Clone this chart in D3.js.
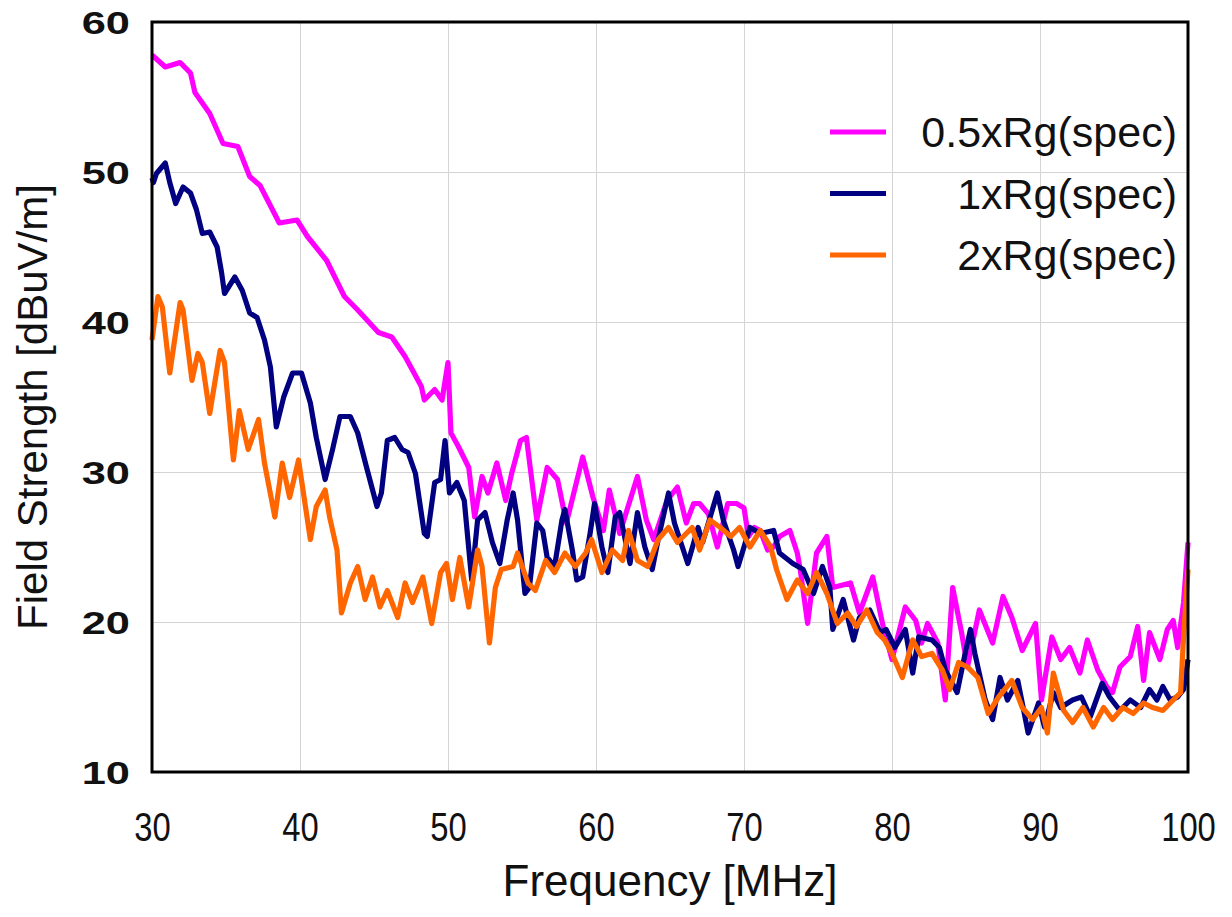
<!DOCTYPE html>
<html>
<head>
<meta charset="utf-8">
<script src="https://cdn.jsdelivr.net/npm/d3@7"></script>
<style>
  body { margin: 0; background: #fff; }
  text { font-family: "Liberation Sans", Arial, sans-serif; fill: #111; }
</style>
</head>
<body>
<div id="plot"></div>
<script>
// Frequency [MHz], field strength [dBuV/m]
const rgHalf = [
  [30.0, 57.8], [30.9, 57.0], [31.9, 57.3], [32.6, 56.6], [32.9, 55.3], [33.9, 53.9],
  [34.8, 51.9], [35.8, 51.7], [36.6, 49.7], [37.3, 49.1], [38.6, 46.6], [39.8, 46.8],
  [40.5, 45.7], [41.8, 44.1], [43.0, 41.7], [43.9, 40.8], [45.3, 39.3], [46.2, 39.0],
  [47.1, 37.7], [48.2, 35.7], [48.4, 34.8], [49.1, 35.5], [49.6, 34.8], [50.0, 37.3],
  [50.2, 32.6], [50.7, 31.7], [51.4, 30.3], [51.8, 27.0], [52.3, 29.7], [52.7, 28.6],
  [53.3, 30.6], [53.9, 28.1], [54.3, 29.9], [54.9, 32.1], [55.3, 32.3], [56.0, 26.8],
  [56.7, 30.3], [57.4, 29.5], [58.0, 26.6], [59.1, 31.0], [59.8, 28.3], [60.5, 26.1],
  [60.9, 28.8], [61.6, 25.9], [62.8, 29.7], [63.4, 26.8], [63.9, 25.5], [64.8, 28.1],
  [65.5, 29.0], [66.1, 26.6], [66.6, 27.9], [67.0, 27.9], [67.6, 27.2], [68.2, 25.0],
  [68.9, 27.9], [69.5, 27.9], [70.0, 27.6], [70.3, 25.7], [70.7, 26.3], [71.1, 26.1],
  [71.6, 24.8], [72.0, 25.0], [72.4, 25.7], [73.1, 26.1], [73.6, 24.6], [73.8, 23.5],
  [74.3, 19.9], [74.9, 24.6], [75.6, 25.7], [76.0, 22.3], [77.2, 22.6], [77.8, 20.6],
  [78.7, 23.0], [79.4, 19.7], [80.0, 17.5], [80.9, 21.0], [81.6, 20.1], [82.0, 18.6],
  [82.4, 19.9], [83.1, 18.6], [83.6, 14.8], [84.1, 22.3], [84.7, 19.3], [85.1, 17.0],
  [85.9, 20.8], [86.8, 18.6], [87.5, 21.7], [88.1, 20.3], [88.8, 18.1], [89.7, 19.9],
  [90.1, 14.8], [90.8, 19.0], [91.4, 17.5], [92.0, 18.3], [92.7, 16.6], [93.2, 18.8],
  [93.9, 16.8], [94.5, 15.7], [94.9, 15.3], [95.4, 17.0], [96.1, 17.7], [96.6, 19.7],
  [97.0, 16.1], [97.4, 19.3], [98.1, 17.5], [98.6, 19.5], [99.0, 20.1], [99.3, 18.3],
  [99.7, 21.3], [100.0, 25.3]
];

const rgOne = [
  [30.0, 49.6], [30.1, 49.3], [30.3, 49.9], [30.9, 50.6], [31.2, 49.3], [31.6, 47.9],
  [32.1, 49.0], [32.6, 48.6], [33.0, 47.5], [33.4, 45.9], [33.9, 46.0], [34.4, 45.0],
  [34.7, 43.3], [34.9, 41.9], [35.6, 43.0], [36.1, 42.1], [36.6, 40.6], [37.1, 40.3],
  [37.6, 38.8], [38.0, 37.0], [38.4, 33.0], [38.9, 35.0], [39.5, 36.6], [40.1, 36.6],
  [40.7, 34.6], [41.1, 32.3], [41.7, 29.5], [42.2, 31.5], [42.7, 33.7], [43.4, 33.7],
  [43.9, 32.6], [44.5, 30.3], [45.2, 27.7], [45.5, 28.6], [45.9, 32.1], [46.4, 32.3],
  [46.9, 31.5], [47.3, 31.3], [47.8, 29.9], [48.4, 25.9], [48.6, 25.7], [49.1, 29.3],
  [49.5, 29.5], [49.8, 32.1], [50.1, 28.6], [50.6, 29.3], [51.1, 28.1], [51.6, 22.8],
  [52.0, 26.8], [52.5, 27.3], [53.0, 25.3], [53.5, 23.9], [54.0, 26.8], [54.4, 28.6],
  [54.7, 26.8], [55.2, 21.9], [55.5, 22.3], [56.0, 26.6], [56.4, 26.1], [56.7, 24.3],
  [57.2, 23.7], [57.7, 26.8], [57.9, 27.5], [58.4, 24.8], [58.7, 22.8], [59.1, 23.0],
  [59.6, 25.9], [59.9, 27.9], [60.4, 25.0], [60.8, 23.3], [61.3, 27.0], [61.6, 27.3],
  [62.3, 23.9], [62.8, 27.3], [63.3, 25.0], [63.8, 23.5], [64.2, 25.5], [64.9, 28.6],
  [65.3, 26.6], [66.2, 23.9], [66.9, 26.3], [67.2, 25.3], [68.2, 28.6], [68.6, 26.8],
  [69.3, 24.8], [69.6, 23.7], [70.4, 26.3], [71.1, 25.9], [72.0, 26.1], [72.4, 24.6],
  [73.3, 23.9], [74.0, 23.5], [74.7, 21.9], [75.3, 23.7], [75.8, 22.3], [76.0, 19.5],
  [76.7, 21.5], [77.4, 18.8], [77.8, 20.3], [78.5, 20.8], [79.2, 19.3], [79.6, 19.5],
  [80.2, 18.3], [80.9, 19.5], [81.4, 16.6], [81.8, 19.0], [82.7, 18.8], [83.2, 18.3],
  [83.6, 16.8], [84.4, 15.3], [84.9, 17.7], [85.3, 19.5], [85.6, 17.9], [86.3, 14.8],
  [86.8, 13.5], [87.3, 16.3], [87.8, 14.8], [88.5, 16.1], [89.2, 12.6], [89.9, 14.6],
  [90.3, 13.0], [90.9, 15.3], [91.4, 14.3], [92.2, 14.8], [92.8, 15.0], [93.4, 13.7],
  [94.2, 15.9], [94.7, 15.0], [95.4, 14.1], [96.1, 14.8], [96.8, 14.3], [97.4, 15.5],
  [97.9, 14.8], [98.3, 15.7], [98.8, 14.8], [99.3, 15.0], [99.7, 15.5], [100.0, 17.5]
];

const rgTwo = [
  [30.0, 38.8], [30.4, 41.7], [30.7, 41.0], [31.2, 36.6], [31.9, 41.3], [32.1, 40.8],
  [32.7, 36.1], [33.1, 37.9], [33.4, 37.3], [33.9, 33.9], [34.6, 38.1], [34.9, 37.3],
  [35.5, 30.8], [35.9, 34.1], [36.5, 31.5], [37.2, 33.5], [37.6, 30.6], [38.3, 27.0],
  [38.8, 30.6], [39.3, 28.3], [39.9, 30.8], [40.7, 25.5], [41.1, 27.7], [41.7, 28.8],
  [42.0, 27.0], [42.5, 24.8], [42.8, 20.6], [43.4, 22.6], [43.9, 23.7], [44.4, 21.5],
  [44.9, 23.0], [45.4, 21.0], [45.9, 22.1], [46.6, 20.3], [47.1, 22.6], [47.6, 21.3],
  [48.3, 23.0], [48.9, 19.9], [49.5, 23.3], [49.9, 23.9], [50.3, 21.5], [50.8, 24.3],
  [51.4, 21.0], [52.0, 24.8], [52.3, 23.7], [52.8, 18.6], [53.2, 22.3], [53.6, 23.5],
  [54.4, 23.7], [54.7, 24.6], [55.4, 22.6], [55.9, 22.1], [56.6, 24.1], [57.2, 23.3],
  [57.9, 24.6], [58.6, 23.7], [59.3, 24.6], [59.7, 25.5], [60.4, 23.3], [61.1, 24.8],
  [61.8, 24.1], [62.2, 26.1], [62.8, 24.1], [63.5, 23.7], [64.2, 25.5], [64.9, 26.3],
  [65.5, 25.3], [66.5, 26.3], [67.0, 24.8], [67.7, 26.8], [68.4, 26.3], [69.1, 25.7],
  [69.7, 26.3], [70.4, 25.0], [71.1, 26.1], [71.8, 25.0], [72.2, 23.5], [72.9, 21.5],
  [73.6, 22.8], [74.3, 21.9], [74.9, 23.3], [75.6, 21.9], [76.3, 19.9], [77.0, 20.6],
  [77.6, 19.7], [78.3, 20.8], [79.0, 19.3], [79.5, 18.8], [80.0, 17.9], [80.7, 16.3],
  [81.4, 18.8], [82.0, 17.7], [82.7, 17.9], [83.4, 16.8], [83.9, 15.5], [84.5, 17.3],
  [85.1, 17.0], [85.8, 16.3], [86.5, 13.9], [87.2, 15.0], [88.1, 16.1], [88.8, 14.3],
  [89.5, 13.5], [90.1, 14.3], [90.5, 12.6], [90.9, 16.6], [91.6, 14.1], [92.2, 13.3],
  [92.9, 14.3], [93.6, 13.0], [94.3, 14.3], [94.9, 13.5], [95.6, 14.3], [96.3, 13.9],
  [97.0, 14.6], [97.6, 14.3], [98.3, 14.1], [99.0, 14.8], [99.5, 15.3], [99.7, 19.0],
  [100.0, 23.5]
];

const seriesNames = ['0.5xRg(spec)', '1xRg(spec)', '2xRg(spec)'];
const seriesColors = ['#ff00ff', '#000080', '#ff6600'];
const xTicks = [30, 40, 50, 60, 70, 80, 90, 100];
const yTicks = [10, 20, 30, 40, 50, 60];

var margin = {top: 22, right: 44, bottom: 145, left: 152},
  width = 1232 - margin.left - margin.right,
  height = 917 - margin.top - margin.bottom;

var svg = d3.select("#plot")
  .append("svg")
    .attr("width", 1232)
    .attr("height", 917)
  .append("g")
    .attr("transform", "translate(" + margin.left + "," + margin.top + ")");

var x = d3.scaleLinear().domain([30, 100]).range([0, width]);
var y = d3.scaleLinear().domain([10, 60]).range([height, 0]);

// Grid lines
svg.append("g")
  .attr("transform", "translate(0," + height + ")")
  .call(d3.axisBottom(x).tickValues(xTicks.slice(1, -1)).tickSize(-height).tickFormat(""))
  .call(g => g.select(".domain").remove())
  .call(g => g.selectAll("line").attr("stroke", "#d4d4d4").attr("stroke-width", 1));

svg.append("g")
  .call(d3.axisLeft(y).tickValues(yTicks.slice(1, -1)).tickSize(-width).tickFormat(""))
  .call(g => g.select(".domain").remove())
  .call(g => g.selectAll("line").attr("stroke", "#d4d4d4").attr("stroke-width", 1));

// Tick labels
svg.append("g")
  .attr("transform", "translate(0," + height + ")")
  .call(d3.axisBottom(x).tickValues(xTicks).tickSize(0).tickPadding(0))
  .call(g => g.select(".domain").remove())
  .call(g => g.selectAll("text")
    .attr("y", 0).attr("dy", 0)
    .attr("transform", "translate(0,69) scale(0.82,1)")
    .style("font-size", "40px"));

svg.append("g")
  .call(d3.axisLeft(y).tickValues(yTicks).tickSize(0).tickPadding(0))
  .call(g => g.select(".domain").remove())
  .call(g => g.selectAll("text")
    .attr("x", 0).attr("dy", "0.36em")
    .attr("transform", "translate(-22,0) scale(1.4,1)")
    .style("font-size", "31px")
    .style("font-weight", "bold"));

// Series
var line = d3.line()
  .x(d => x(d[0]))
  .y(d => y(d[1]));

[rgHalf, rgOne, rgTwo].forEach(function (data, i) {
  svg.append("path")
    .datum(data)
    .attr("fill", "none")
    .attr("stroke", seriesColors[i])
    .attr("stroke-width", 5.2)
    .attr("stroke-linejoin", "round")
    .attr("d", line);
});

// Frame
svg.append("rect")
  .attr("x", 0).attr("y", 0)
  .attr("width", width).attr("height", height)
  .attr("fill", "none")
  .attr("stroke", "#000")
  .attr("stroke-width", 3);

// Legend
var legend = svg.append("g");
seriesNames.forEach(function (name, i) {
  var ly = 110 + i * 61.5;
  legend.append("line")
    .attr("x1", 678).attr("x2", 734)
    .attr("y1", ly).attr("y2", ly)
    .attr("stroke", seriesColors[i])
    .attr("stroke-width", 5);
  legend.append("text")
    .attr("x", 1025).attr("y", ly + 15)
    .attr("text-anchor", "end")
    .style("font-size", "43px")
    .text(name);
});

// Axis titles
svg.append("text")
  .attr("x", width / 2).attr("y", height + 124)
  .attr("text-anchor", "middle")
  .style("font-size", "44px")
  .text("Frequency [MHz]");

svg.append("text")
  .attr("transform", "translate(-105," + (height / 2 + 10) + ") rotate(-90)")
  .attr("text-anchor", "middle")
  .style("font-size", "42px")
  .text("Field Strength [dBuV/m]");
</script>
</body>
</html>
